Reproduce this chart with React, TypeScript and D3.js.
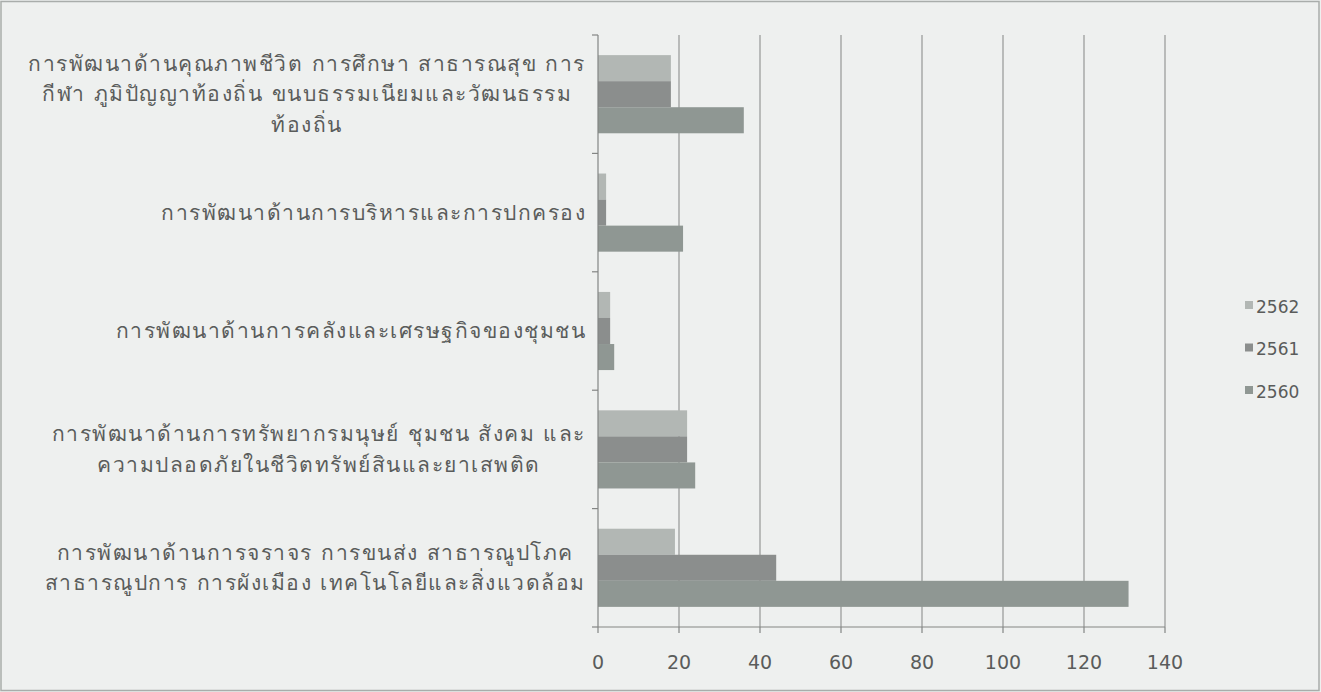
import React, { useMemo } from "react";
import * as d3 from "d3";

const categories: string[][] = [
  ["การพัฒนาด้านคุณภาพชีวิต การศึกษา สาธารณสุข การ", "กีฬา ภูมิปัญญาท้องถิ่น ขนบธรรมเนียมและวัฒนธรรม", "ท้องถิ่น"],
  ["การพัฒนาด้านการบริหารและการปกครอง"],
  ["การพัฒนาด้านการคลังและเศรษฐกิจของชุมชน"],
  ["การพัฒนาด้านการทรัพยากรมนุษย์ ชุมชน สังคม และ", "ความปลอดภัยในชีวิตทรัพย์สินและยาเสพติด"],
  ["การพัฒนาด้านการจราจร การขนส่ง สาธารณูปโภค", "สาธารณูปการ การผังเมือง เทคโนโลยีและสิ่งแวดล้อม"],
];
const seriesNames = ["2562", "2561", "2560"];
const values2562 = [18, 2, 3, 22, 19];
const values2561 = [18, 2, 3, 22, 44];
const values2560 = [36, 21, 4, 24, 131];
const xTicks = [0, 20, 40, 60, 80, 100, 120, 140];
const seriesColors = ["#b2b7b4", "#8b8e8d", "#8f9793"];

const W = 1321;
const H = 692;
const FONT = "Tahoma, 'DejaVu Sans', 'Noto Sans', sans-serif";
const LABEL_SIZE = 21;
const LABEL_SPACING = 1.5;

export default function App() {
  const series = [values2562, values2561, values2560];
  const left = 598, right = 1165, top = 35, bottom = 627;
  const x = d3.scaleLinear().domain([0, 140]).range([left, right]);
  const yBand = d3.scaleBand<number>().domain(d3.range(categories.length)).range([top, bottom]).paddingInner(0.34).paddingOuter(0.17);
  const ySub = d3.scaleBand<number>().domain(d3.range(seriesNames.length)).range([0, yBand.bandwidth()]);
  const yFull = d3.scaleBand<number>().domain(d3.range(categories.length)).range([top, bottom]);

  const measure = useMemo(() => {
    const c = document.createElement("canvas").getContext("2d")! as any;
    c.font = `${LABEL_SIZE}px ${FONT}`;
    c.letterSpacing = `${LABEL_SPACING}px`;
    return (s: string) => c.measureText(s).width;
  }, []);

  const labelRight = 586;
  const lineH = 30.5;

  return (
    <svg width={W} height={H} style={{ position: "absolute", left: 0, top: 0 }} fontFamily={FONT}>
      <rect x={0} y={0} width={W} height={H} fill="#eef0ef" />
      <rect x={1} y={1.5} width={W - 3} height={H - 3} fill="none" stroke="#a9adab" strokeWidth={1.5} />
      {/* gridlines */}
      {xTicks.filter((t) => t > 0).map((t) => (
        <line key={"g" + t} x1={x(t)} x2={x(t)} y1={top} y2={bottom} stroke="#838584" strokeWidth={1} />
      ))}
      {/* bars */}
      {categories.map((_, ci) =>
        series.map((vals, si) => (
          <rect
            key={ci + "-" + si}
            x={x(0)}
            y={(yBand(ci) as number) + (ySub(si) as number)}
            width={x(vals[ci]) - x(0)}
            height={ySub.bandwidth()}
            fill={seriesColors[si]}
          />
        ))
      )}
      {/* y axis */}
      <line x1={left} x2={left} y1={top} y2={bottom} stroke="#838584" strokeWidth={1.2} />
      {[...categories.map((_, i) => yFull(i) as number), bottom].map((yy, i) => (
        <line key={"yt" + i} x1={left - 6} x2={left} y1={yy} y2={yy} stroke="#838584" strokeWidth={1.2} />
      ))}
      {/* x axis */}
      <line x1={left} x2={right} y1={bottom} y2={bottom} stroke="#838584" strokeWidth={1.2} />
      {xTicks.map((t) => (
        <g key={"xt" + t}>
          <line x1={x(t)} x2={x(t)} y1={bottom} y2={bottom + 6} stroke="#838584" strokeWidth={1.2} />
          <text x={x(t)} y={669} textAnchor="middle" fontSize={19} fill="#5a5c5b">
            {t}
          </text>
        </g>
      ))}
      {/* category labels */}
      {categories.map((lines, ci) => {
        const maxW = d3.max(lines, (l) => measure(l)) as number;
        const cx = labelRight - maxW / 2;
        const cy = (yFull(ci) as number) + yFull.bandwidth() / 2;
        const y0 = cy - ((lines.length - 1) * lineH) / 2 + 7;
        return (
          <text key={"c" + ci} fontSize={LABEL_SIZE} letterSpacing={LABEL_SPACING} fill="#5a5c5b" textAnchor="middle">
            {lines.map((l, li) => (
              <tspan key={li} x={cx} y={y0 + li * lineH}>
                {l}
              </tspan>
            ))}
          </text>
        );
      })}
      {/* legend */}
      {seriesNames.map((n, i) => (
        <g key={"lg" + n} transform={`translate(1245, ${307 + i * 42.5})`}>
          <rect x={0} y={-6} width={8} height={8} fill={seriesColors[i]} />
          <text x={11} y={0} dy="0.35em" fontSize={17} fill="#5a5c5b">
            {n}
          </text>
        </g>
      ))}
    </svg>
  );
}
